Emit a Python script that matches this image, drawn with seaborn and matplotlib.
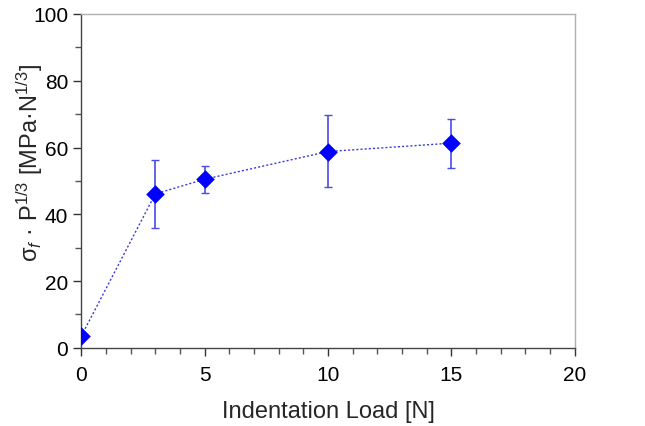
import matplotlib
matplotlib.use("Agg")
import matplotlib.pyplot as plt
import seaborn as sns
import pandas as pd
from matplotlib.ticker import MultipleLocator

load = [0, 3, 5, 10, 15]
value = [3.5, 46.1, 50.5, 58.8, 61.3]
err_low = [0.0, 10.3, 4.1, 10.5, 7.4]
err_high = [0.0, 10.2, 3.9, 10.8, 7.3]

sns.set_style("ticks")
plt.rcParams['font.family'] = ['Liberation Sans', 'DejaVu Sans']
plt.rcParams['mathtext.fontset'] = 'custom'
plt.rcParams['mathtext.rm'] = 'Liberation Sans'
plt.rcParams['mathtext.it'] = 'Liberation Sans:italic'

df = pd.DataFrame({"load": load, "value": value})

fig = plt.figure(figsize=(6.45, 4.27), dpi=100)
ax = fig.add_axes([0.126, 0.183, 0.765, 0.782])

ax.errorbar(load, value, yerr=[err_low, err_high], fmt='none',
            ecolor='#4a4ae8', elinewidth=1.2, capsize=3, capthick=1.0, zorder=2)
sns.lineplot(data=df, x="load", y="value", ax=ax, color='#3b3bd9',
             linestyle=(0, (1.5, 1.5)), linewidth=1.0, zorder=3)
sns.scatterplot(data=df, x="load", y="value", ax=ax, marker='D', s=90,
                color='#0000ff', edgecolor='#0000ff', linewidth=0, zorder=4)

ax.set_xlim(0, 20)
ax.set_ylim(0, 100)
ax.xaxis.set_major_locator(MultipleLocator(5))
ax.xaxis.set_minor_locator(MultipleLocator(1))
ax.yaxis.set_major_locator(MultipleLocator(20))
ax.yaxis.set_minor_locator(MultipleLocator(10))
ax.tick_params(axis='both', which='major', length=6, width=1.0, colors='#333333',
               labelsize=15, labelcolor='black', direction='out')
ax.tick_params(axis='x', which='major', pad=6)
ax.tick_params(axis='both', which='minor', length=4, width=1.0, colors='#555555', direction='out')

for s in ['left', 'bottom']:
    ax.spines[s].set_color('#444444')
    ax.spines[s].set_linewidth(1.0)
for s in ['top', 'right']:
    ax.spines[s].set_color('#b0b0b0')
    ax.spines[s].set_linewidth(1.0)

ax.set_xlabel("Indentation Load [N]", fontsize=17, labelpad=12)
ax.set_ylabel(r"σ$_{\mathit{f}}$ · P$^{\mathrm{1/3}}$ [MPa·N$^{\mathrm{1/3}}$]", fontsize=17)
ax.yaxis.set_label_coords(-0.105, 0.557)
ax.yaxis.label.set_verticalalignment('center')

fig.savefig("out.png", dpi=100)
